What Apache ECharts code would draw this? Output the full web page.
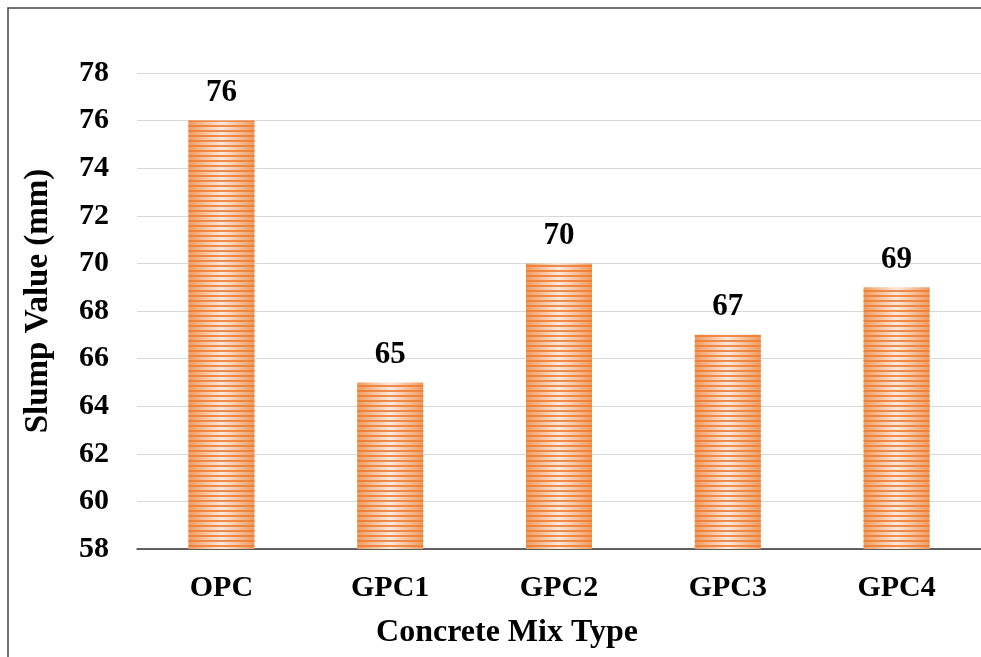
<!DOCTYPE html>
<html>
<head>
<meta charset="utf-8">
<script src="https://cdn.jsdelivr.net/npm/echarts@6/dist/echarts.min.js"></script>
<style>
  html, body { margin: 0; padding: 0; background: #fff; }
  #chart { width: 981px; height: 657px; }
</style>
</head>
<body>
<div id="chart"></div>
<script>
  var mixTypes = ['OPC', 'GPC1', 'GPC2', 'GPC3', 'GPC4']
  var slumpValues = [76, 65, 70, 67, 69]
  var yMin = 58
  var yMax = 78
  var yStep = 2

  var font = '"Liberation Serif", "Times New Roman", serif'

  var chart = echarts.init(document.getElementById('chart'))
  var option = {
    backgroundColor: '#fff',
    animation: false,
    graphic: [{
      type: 'rect',
      shape: { x: 8, y: 8, width: 1000, height: 700 },
      style: { fill: 'none', stroke: '#444', lineWidth: 1.5 },
      silent: true
    }, {
      // axis titles sit centred on the chart area, not on the plot
      type: 'text',
      x: 507,
      y: 633,
      style: {
        text: 'Concrete Mix Type',
        font: 'bold 32px ' + font,
        fill: '#000',
        align: 'center',
        verticalAlign: 'middle'
      },
      silent: true
    }, {
      type: 'text',
      x: 38,
      y: 301,
      rotation: Math.PI / 2,
      style: {
        text: 'Slump Value (mm)',
        font: 'bold 33px ' + font,
        fill: '#000',
        align: 'center',
        verticalAlign: 'middle'
      },
      silent: true
    }],
    grid: { left: 137, right: -6, top: 73, bottom: 108 },
    xAxis: {
      type: 'category',
      data: mixTypes,
      axisLine: { lineStyle: { color: '#333', width: 1.5 } },
      axisTick: { show: false },
      axisLabel: { fontFamily: font, fontWeight: 'bold', fontSize: 30, color: '#000', margin: 24 }
    },
    yAxis: {
      type: 'value',
      min: yMin,
      max: yMax,
      interval: yStep,
      axisLine: { show: false },
      axisTick: { show: false },
      axisLabel: { fontFamily: font, fontWeight: 'bold', fontSize: 30, color: '#000', margin: 28 },
      splitLine: { lineStyle: { color: '#d9d9d9', width: 1 } }
    },
    series: [{
      type: 'bar',
      data: slumpValues,
      barWidth: 66,
      itemStyle: {
        color: {
          type: 'linear', x: 0, y: 0, x2: 1, y2: 0,
          colorStops: [
            { offset: 0, color: '#f09a5e' },
            { offset: 0.5, color: '#fde9dc' },
            { offset: 1, color: '#f09a5e' }
          ]
        },
        decal: {
          symbol: 'rect',
          symbolSize: 1,
          color: 'rgba(237,125,49,0.85)',
          dashArrayX: [1, 0],
          dashArrayY: [2, 3],
          rotation: 0
        }
      },
      label: {
        show: true,
        position: 'top',
        distance: 12,
        fontFamily: font,
        fontWeight: 'bold',
        fontSize: 31,
        color: '#000'
      }
    }]
  }
  chart.setOption(option)
</script>
</body>
</html>
